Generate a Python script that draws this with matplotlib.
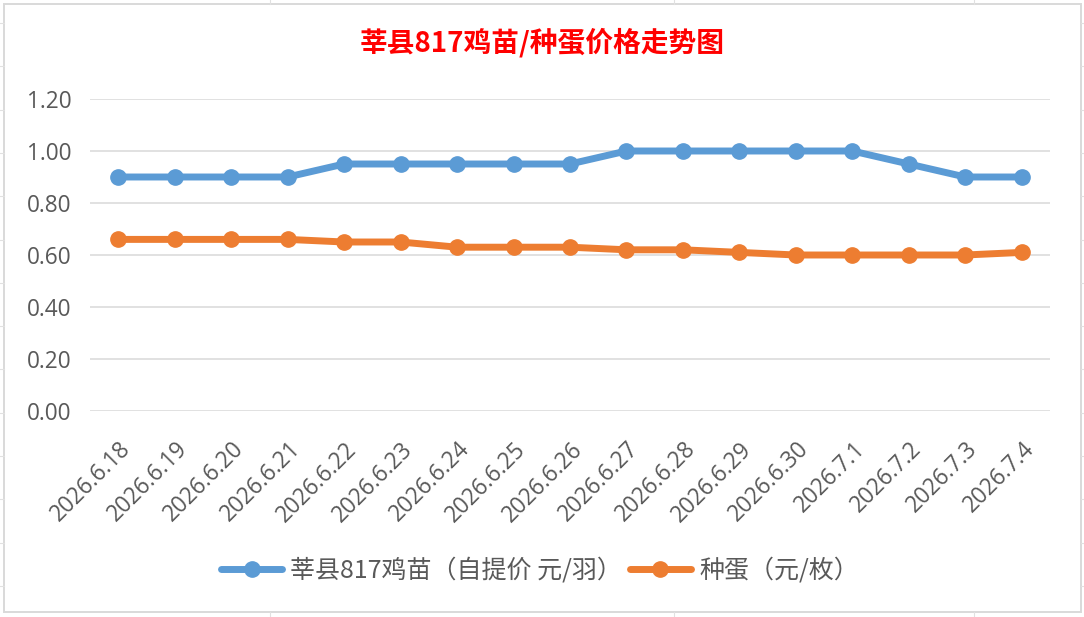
import matplotlib
matplotlib.use("Agg")
import matplotlib.pyplot as plt
from matplotlib.lines import Line2D
from matplotlib.patches import Rectangle
from matplotlib.transforms import ScaledTranslation

plt.rcParams['font.family'] = ['Noto Sans CJK SC', 'DejaVu Sans']

# ---------------- data ----------------
dates = ["2026.6.18", "2026.6.19", "2026.6.20", "2026.6.21", "2026.6.22",
         "2026.6.23", "2026.6.24", "2026.6.25", "2026.6.26", "2026.6.27",
         "2026.6.28", "2026.6.29", "2026.6.30", "2026.7.1", "2026.7.2",
         "2026.7.3", "2026.7.4"]
chick_price = [0.90, 0.90, 0.90, 0.90, 0.95, 0.95, 0.95, 0.95, 0.95,
               1.00, 1.00, 1.00, 1.00, 1.00, 0.95, 0.90, 0.90]
egg_price = [0.66, 0.66, 0.66, 0.66, 0.65, 0.65, 0.63, 0.63, 0.63,
             0.62, 0.62, 0.61, 0.60, 0.60, 0.60, 0.60, 0.61]
yticks = [0.0, 0.2, 0.4, 0.6, 0.8, 1.0, 1.2]
title = "莘县817鸡苗/种蛋价格走势图"
label_chick = "莘县817鸡苗（自提价 元/羽）"
label_egg = "种蛋（元/枚）"

# ---------------- figure ----------------
W, H = 1084, 617
fig = plt.figure(figsize=(W / 100, H / 100), dpi=100)
fig.patch.set_facecolor("white")

def fx(px):
    return px / W

def fy(py):
    return 1 - py / H

# spreadsheet cell lines visible around the chart
cell_col = "#E1E1E1"
for xc in [270, 673.5, 974]:
    fig.add_artist(Line2D([fx(xc), fx(xc)], [fy(0), fy(4)], color=cell_col, lw=0.8))
    fig.add_artist(Line2D([fx(xc), fx(xc)], [fy(612), fy(617)], color=cell_col, lw=0.8))
yc = 23.0
while yc < 612:
    fig.add_artist(Line2D([fx(0), fx(4)], [fy(yc), fy(yc)], color=cell_col, lw=0.8))
    fig.add_artist(Line2D([fx(1081), fx(1084)], [fy(yc), fy(yc)], color=cell_col, lw=0.8))
    yc += 43.3

# chart border
fig.add_artist(Rectangle((fx(4), fy(612)), fx(1081) - fx(4), fy(4) - fy(612),
                         transform=fig.transFigure, fill=False,
                         edgecolor="#D9D9D9", lw=1.4))

ax = fig.add_axes([fx(90), fy(411), fx(1050) - fx(90), fy(99) - fy(411)])
ax.set_facecolor("none")

x = list(range(len(dates)))
blue = "#5B9BD5"
orange = "#ED7D31"
ax.plot(x, chick_price, color=blue, lw=5, marker="o", markersize=11,
        solid_capstyle="round", label=label_chick, zorder=3)
ax.plot(x, egg_price, color=orange, lw=5, marker="o", markersize=11,
        solid_capstyle="round", label=label_egg, zorder=3)

ax.set_xlim(-0.5, len(dates) - 0.5)
ax.set_ylim(0, 1.2)
ax.set_yticks(yticks)
ax.set_yticklabels([f"{v:.2f}" for v in yticks])
ax.grid(axis="y", color="#D9D9D9", lw=1.1)
ax.set_axisbelow(True)
for s in ax.spines.values():
    s.set_visible(False)
ax.tick_params(axis="y", length=0, pad=13.5, labelcolor="#595959", labelsize=16.3)
ax.tick_params(axis="x", length=0, pad=25, labelcolor="#595959", labelsize=16.3)
for lab in ax.get_yticklabels():
    lab.set_family(["Open Sans", "DejaVu Sans"])

ax.set_xticks(x)
ax.set_xticklabels(dates, rotation=45, ha="right", va="center",
                   rotation_mode="anchor", family=["Open Sans", "DejaVu Sans"])
offset = ScaledTranslation(9 / 100, 0, fig.dpi_scale_trans)
for lab in ax.get_xticklabels():
    lab.set_transform(lab.get_transform() + offset)

fig.text(0.5, fy(43), title, ha="center", va="center", color="#FF0000",
         fontsize=20, fontweight="bold")

fig.legend(loc="center", bbox_to_anchor=(fx(540), fy(571)), ncol=2,
           frameon=False, fontsize=18, handlelength=2.45, handletextpad=0.33,
           columnspacing=0.3, labelcolor="#595959")

fig.savefig("out.png", dpi=100)
